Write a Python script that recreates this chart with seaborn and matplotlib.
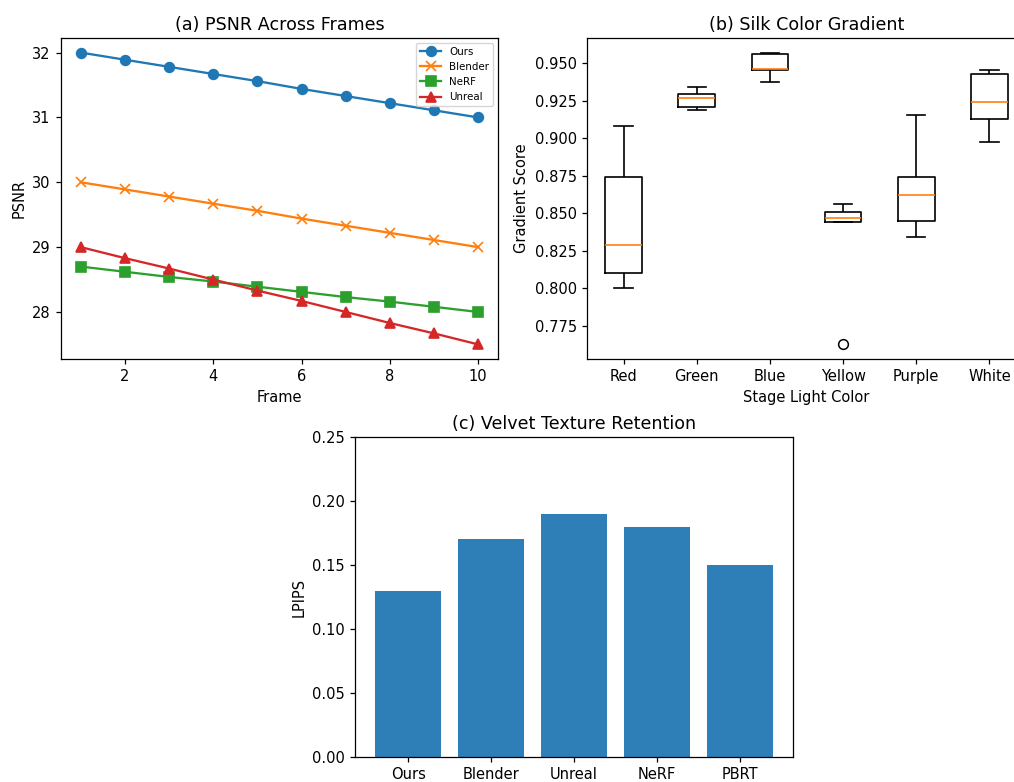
import matplotlib
matplotlib.use("Agg")
import matplotlib.pyplot as plt
import seaborn as sns
import pandas as pd
import numpy as np

# ---- data ----
frames = [1, 2, 3, 4, 5, 6, 7, 8, 9, 10]
psnr_ours = [32.0, 31.89, 31.78, 31.67, 31.56, 31.44, 31.33, 31.22, 31.11, 31.0]
psnr_blender = [30.0, 29.89, 29.78, 29.67, 29.56, 29.44, 29.33, 29.22, 29.11, 29.0]
psnr_nerf = [28.7, 28.62, 28.54, 28.47, 28.39, 28.31, 28.23, 28.16, 28.08, 28.0]
psnr_unreal = [29.0, 28.83, 28.67, 28.5, 28.33, 28.17, 28.0, 27.83, 27.67, 27.5]

light_colors = ["Red", "Green", "Blue", "Yellow", "Purple", "White"]
grad_red = [0.800, 0.810, 0.829, 0.874, 0.908]
grad_green = [0.9187, 0.9204, 0.9264, 0.9296, 0.934]
grad_blue = [0.9376, 0.9453, 0.9458, 0.956, 0.9569]
grad_yellow = [0.7627, 0.8444, 0.8467, 0.8511, 0.856]
grad_purple = [0.834, 0.845, 0.8618, 0.8742, 0.9156]
grad_white = [0.8973, 0.9124, 0.924, 0.9427, 0.9451]

methods = ["Ours", "Blender", "Unreal", "NeRF", "PBRT"]
lpips = [0.13, 0.17, 0.19, 0.18, 0.15]

plt.rcParams.update({
    "font.family": ["DejaVu Sans"],
    "font.size": 10.5,
    "axes.titlesize": 12.6,
    "axes.labelsize": 10.5,
    "xtick.labelsize": 10.5,
    "ytick.labelsize": 10.5,
    "axes.linewidth": 0.9,
    "xtick.major.width": 0.9,
    "ytick.major.width": 0.9,
    "xtick.major.size": 3.9,
    "ytick.major.size": 3.9,
})

W, H = 1014, 782
fig = plt.figure(figsize=(W / 100, H / 100), dpi=100)

def box(l, t, r, b):
    return [l / W, 1 - b / H, (r - l) / W, (b - t) / H]

ax1 = fig.add_axes(box(61, 38, 498, 359))
ax2 = fig.add_axes(box(587, 38, 1026, 359))
ax3 = fig.add_axes(box(355, 437, 793, 757))

# ---- (a) line chart ----
series = [("Ours", psnr_ours, "o", "C0"),
          ("Blender", psnr_blender, "x", "C1"),
          ("NeRF", psnr_nerf, "s", "C2"),
          ("Unreal", psnr_unreal, "^", "C3")]
for name, vals, mk, col in series:
    sns.lineplot(x=frames, y=vals, ax=ax1, marker=mk, color=col, label=name,
                 markersize=7, linewidth=1.65, markeredgecolor=col,
                 markerfacecolor=col, markeredgewidth=1.2)
ax1.set_title("(a) PSNR Across Frames")
ax1.set_xlabel("Frame")
ax1.set_ylabel("PSNR")
ax1.set_xticks([2, 4, 6, 8, 10])
ax1.set_yticks([28, 29, 30, 31, 32])
ax1.margins(0.05)
ax1.legend(loc="upper right", fontsize=7.4, borderaxespad=0.45)

# ---- (b) box plot ----
grads = [grad_red, grad_green, grad_blue, grad_yellow, grad_purple, grad_white]
df_b = pd.DataFrame({
    "color": np.repeat(light_colors, [len(g) for g in grads]),
    "score": np.concatenate(grads),
})
sns.boxplot(data=df_b, x="color", y="score", ax=ax2, order=light_colors,
            fill=False, color="black", width=0.5, linewidth=1.2,
            whis=1.5,
            medianprops={"color": "C1", "linewidth": 1.2},
            flierprops={"marker": "o", "markerfacecolor": "none",
                        "markeredgecolor": "black", "markersize": 7,
                        "markeredgewidth": 1.1})
ax2.set_title("(b) Silk Color Gradient")
ax2.set_xlabel("Stage Light Color")
ax2.set_ylabel("Gradient Score")
ax2.set_xlim(-0.5, 5.5)
ax2.set_ylim(0.7530, 0.9666)
ax2.set_yticks([0.775, 0.800, 0.825, 0.850, 0.875, 0.900, 0.925, 0.950])
ax2.set_yticklabels([f"{v:.3f}" for v in ax2.get_yticks()])

# ---- (c) bar chart ----
sns.barplot(x=methods, y=lpips, ax=ax3, color="#2e7fb8", saturation=1,
            width=0.8)
ax3.set_title("(c) Velvet Texture Retention")
ax3.set_ylabel("LPIPS")
ax3.set_ylim(0, 0.25)
ax3.set_xlim(-0.64, 4.64)
ax3.set_yticks([0.0, 0.05, 0.10, 0.15, 0.20, 0.25])
ax3.set_yticklabels([f"{v:.2f}" for v in ax3.get_yticks()])

fig.savefig("out.png", dpi=100)
